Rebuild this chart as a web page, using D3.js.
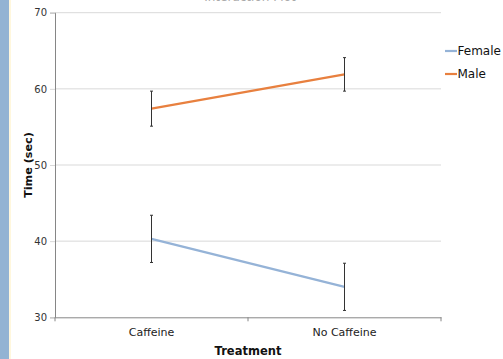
<!DOCTYPE html>
<html><head><meta charset="utf-8">
<script src="https://cdn.jsdelivr.net/npm/d3@7"></script>
<style>body{margin:0;background:#fff;} svg{display:block;}</style>
</head><body>
<script>
const categories = ["Caffeine", "No Caffeine"];
const seriesNames = ["Female", "Male"];
const femaleMeans = [40.3, 34.0];
const femaleErr = [3.1, 3.1];
const maleMeans = [57.4, 61.9];
const maleErr = [2.3, 2.2];
const yTicks = [30, 40, 50, 60, 70];
const colors = ["#95B3D7", "#E8803F"];

const W = 503, H = 359;
const svg = d3.select("body").append("svg").attr("width", W).attr("height", H);
const font = "'DejaVu Sans', sans-serif";

// left decorative strip
svg.append("rect").attr("x",0).attr("y",0).attr("width",9).attr("height",H).attr("fill","#93B3D3");
svg.append("rect").attr("x",9).attr("y",0).attr("width",2).attr("height",H).attr("fill","#FFF7DD");

const m = {l:55, r:441, t:12.7, b:317.3};
const x = d3.scaleBand().domain(categories).range([m.l, m.r]);
const y = d3.scaleLinear().domain([30,70]).range([m.b, m.t]);

// title (mostly clipped at the top, as in the reference)
svg.append("text").attr("x", 250).attr("y", 0.5).attr("text-anchor","middle")
  .attr("font-family", font).attr("font-size", 12).attr("fill","#aaa")
  .text("Interaction Plot");

// gridlines
svg.append("g").selectAll("line").data(yTicks.filter(d=>d>30)).join("line")
  .attr("x1", m.l).attr("x2", m.r).attr("y1", d=>y(d)).attr("y2", d=>y(d))
  .attr("stroke","#D9D9D9").attr("stroke-width",1);

// y axis
const yAxis = d3.axisLeft(y).tickValues(yTicks).tickSize(5).tickPadding(3);
const gy = svg.append("g").attr("transform",`translate(${m.l},0)`).call(yAxis);
gy.select(".domain").attr("stroke","#868686");
gy.selectAll(".tick line").attr("stroke","#D9D9D9");
gy.selectAll(".tick text").attr("font-family",font).attr("font-size",10).attr("fill","#333");

// x axis
const xAxis = d3.axisBottom(x).tickSize(0).tickPadding(11);
const gx = svg.append("g").attr("transform",`translate(0,${m.b})`).call(xAxis);
gx.select(".domain").attr("stroke","#868686");
gx.selectAll(".tick text").attr("font-family",font).attr("font-size",11).attr("fill","#222");
// boundary ticks
const bounds = [m.l, m.l + x.bandwidth(), m.r];
gx.selectAll(".btick").data(bounds).join("line").attr("class","btick")
  .attr("x1", d=>d).attr("x2", d=>d).attr("y1",0).attr("y2",4).attr("stroke","#868686");

// axis titles
svg.append("text").attr("x", 248).attr("y", 355).attr("text-anchor","middle")
  .attr("font-family",font).attr("font-weight","bold").attr("font-size",11.5).attr("fill","#111")
  .text("Treatment");
svg.append("text").attr("transform","translate(32,165) rotate(-90)").attr("text-anchor","middle")
  .attr("font-family",font).attr("font-weight","bold").attr("font-size",11.2).attr("fill","#111")
  .text("Time (sec)");

const series = [
  {name: seriesNames[0], means: femaleMeans, err: femaleErr, color: colors[0]},
  {name: seriesNames[1], means: maleMeans, err: maleErr, color: colors[1]}
];
const cx = c => x(c) + x.bandwidth()/2;
const line = d3.line().x(d=>cx(d.c)).y(d=>y(d.v));

series.forEach(s => {
  const pts = categories.map((c,i)=>({c, v:s.means[i], e:s.err[i]}));
  svg.append("path").datum(pts).attr("d", line).attr("fill","none")
    .attr("stroke", s.color).attr("stroke-width", 2.2);
  const g = svg.append("g");
  g.selectAll("line.v").data(pts).join("line").attr("class","v")
    .attr("x1", d=>cx(d.c)).attr("x2", d=>cx(d.c))
    .attr("y1", d=>y(d.v+d.e)).attr("y2", d=>y(d.v-d.e))
    .attr("stroke","#333").attr("stroke-width",1);
  ["t","b"].forEach(k => {
    g.selectAll("line.c"+k).data(pts).join("line").attr("class","c"+k)
      .attr("x1", d=>cx(d.c)-1.5).attr("x2", d=>cx(d.c)+1.5)
      .attr("y1", d=>y(k==="t"?d.v+d.e:d.v-d.e)).attr("y2", d=>y(k==="t"?d.v+d.e:d.v-d.e))
      .attr("stroke","#333").attr("stroke-width",1);
  });
});

// legend
const lg = svg.append("g").attr("transform","translate(445,51)");
series.forEach((s,i) => {
  const gi = lg.append("g").attr("transform",`translate(0,${i*23})`);
  gi.append("line").attr("x1",0).attr("x2",12).attr("y1",0).attr("y2",0)
    .attr("stroke", s.color).attr("stroke-width",2.2);
  gi.append("text").attr("x",12.5).attr("y",4.4).attr("font-family",font).attr("font-size",12)
    .attr("fill","#111").text(s.name);
});
</script>
</body></html>
